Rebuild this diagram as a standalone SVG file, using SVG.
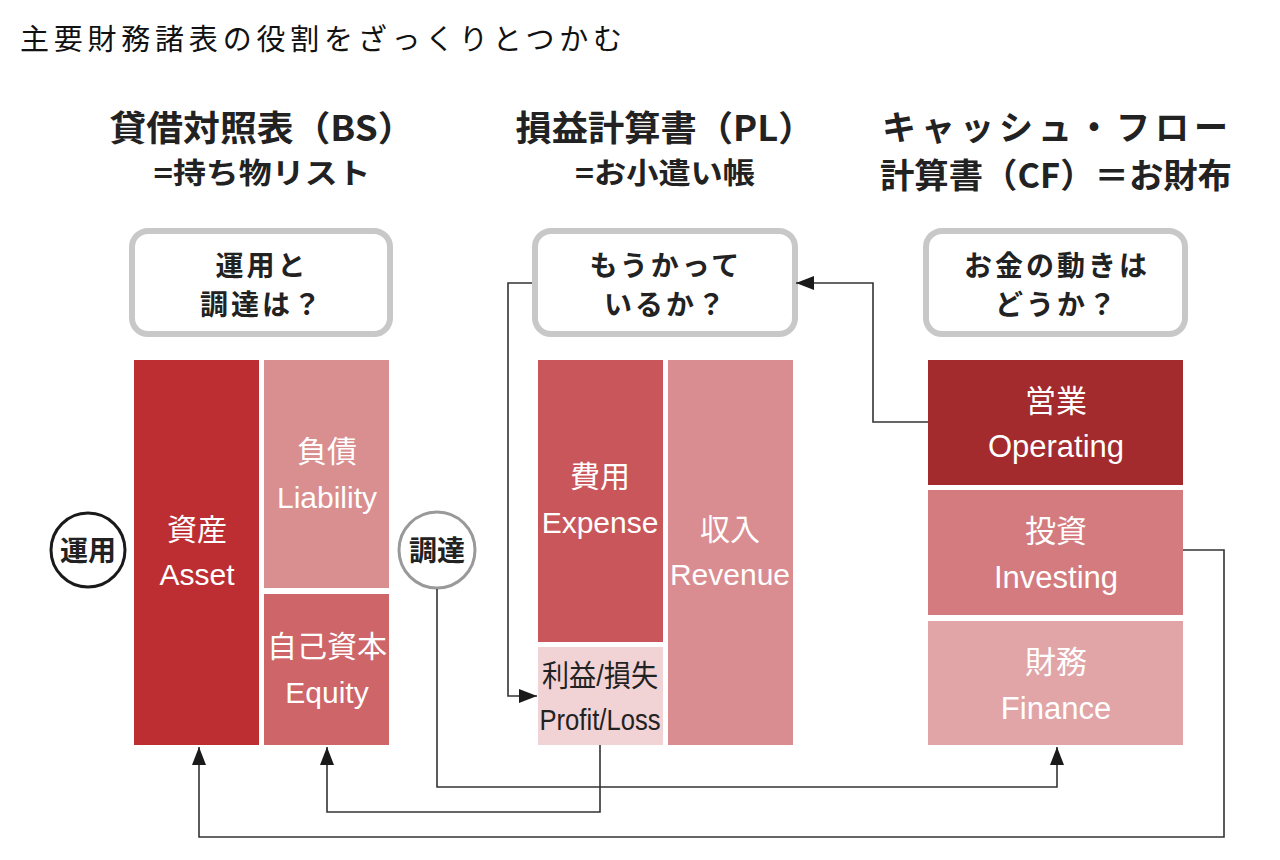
<svg xmlns="http://www.w3.org/2000/svg" width="1280" height="860" viewBox="0 0 1280 860">
<style>
.title{font-family:"Noto Sans CJK JP",sans-serif;font-size:29px;font-weight:400;fill:#111}
.h{font-family:"Noto Sans CJK JP",sans-serif;font-weight:700;fill:#222;text-anchor:middle}
.bt{font-family:"Noto Sans CJK JP",sans-serif;font-weight:700;font-size:28px;fill:#222;text-anchor:middle;letter-spacing:3px}
.bubble{fill:#fff;stroke:#c8c8c8;stroke-width:6}
.lbl{font-family:"Liberation Sans","Noto Sans CJK JP",sans-serif;font-size:30px;fill:#fff;text-anchor:middle}
.lblc{font-family:"Liberation Sans","Noto Sans CJK JP",sans-serif;font-size:31px;fill:#fff;text-anchor:middle}
.dark{fill:#222}
.conn{fill:none;stroke:#333;stroke-width:1.6}
</style>
<defs>
<marker id="arr" markerUnits="userSpaceOnUse" markerWidth="18" markerHeight="14" viewBox="0 0 18 14" refX="18" refY="7" orient="auto">
<path d="M0,0 L18,7 L0,14 z" fill="#1a1a1a"/>
</marker>
</defs>
<rect width="1280" height="860" fill="#fff"/>
<text class="title" x="20" y="50" textLength="602" lengthAdjust="spacing">主要財務諸表の役割をざっくりとつかむ</text>

<g id="head-bs">
<text class="h" x="262" y="141" font-size="35" textLength="305" lengthAdjust="spacingAndGlyphs">貸借対照表（BS）</text>
<text class="h" x="262" y="184" font-size="29" textLength="217" lengthAdjust="spacingAndGlyphs">=持ち物リスト</text>
</g>
<g id="head-pl">
<text class="h" x="665" y="141" font-size="35" textLength="299" lengthAdjust="spacingAndGlyphs">損益計算書（PL）</text>
<text class="h" x="665" y="184" font-size="29" textLength="180" lengthAdjust="spacingAndGlyphs">=お小遣い帳</text>
</g>
<g id="head-cf">
<text class="h" x="1055" y="140" font-size="34" textLength="346" lengthAdjust="spacing">キャッシュ・フロー</text>
<text class="h" x="1056" y="188" font-size="34" textLength="352" lengthAdjust="spacingAndGlyphs">計算書（CF）＝お財布</text>
</g>

<g id="q-bs">
<rect class="bubble" x="132" y="231" width="258" height="103" rx="16"/>
<text class="bt" x="262" y="276">運用と</text>
<text class="bt" x="262" y="315">調達は？</text>
</g>
<g id="q-pl">
<rect class="bubble" x="535" y="231" width="260" height="103" rx="16"/>
<text class="bt" x="666" y="276">もうかって</text>
<text class="bt" x="666" y="315">いるか？</text>
</g>
<g id="q-cf">
<rect class="bubble" x="926" y="231" width="259" height="103" rx="16"/>
<text class="bt" x="1057" y="276">お金の動きは</text>
<text class="bt" x="1057" y="315">どうか？</text>
</g>

<g id="asset">
<rect x="134" y="360" width="125" height="385" fill="#bd2e33"/>
<text class="lbl" x="197" y="540">資産</text>
<text class="lbl" x="197" y="585">Asset</text>
</g>
<g id="liability">
<rect x="264" y="360" width="125" height="228" fill="#d98e90"/>
<text class="lbl" x="327" y="462">負債</text>
<text class="lbl" x="327" y="508">Liability</text>
</g>
<g id="equity">
<rect x="264" y="594" width="125" height="151" fill="#cd6569"/>
<text class="lbl" x="327" y="657">自己資本</text>
<text class="lbl" x="327" y="703">Equity</text>
</g>
<g id="unyo">
<circle cx="88" cy="550" r="37" fill="#fff" stroke="#1a1a1a" stroke-width="3"/>
<text class="h" x="88" y="561" font-size="28">運用</text>
</g>
<g id="chotatsu">
<circle cx="437" cy="550" r="38" fill="#fff" stroke="#999" stroke-width="3"/>
<text class="h" x="437" y="561" font-size="28">調達</text>
</g>

<g id="expense">
<rect x="538" y="360" width="125" height="282" fill="#c8565b"/>
<text class="lbl" x="600" y="487">費用</text>
<text class="lbl" x="600" y="533">Expense</text>
</g>
<g id="profit">
<rect x="538" y="647" width="125" height="98" fill="#f1d3d5"/>
<text class="lbl dark" x="600" y="686" textLength="116" lengthAdjust="spacingAndGlyphs">利益/損失</text>
<text class="lbl dark" x="600" y="730" textLength="121" lengthAdjust="spacingAndGlyphs">Profit/Loss</text>
</g>
<g id="revenue">
<rect x="668" y="360" width="125" height="385" fill="#da8d90"/>
<text class="lbl" x="730" y="540">収入</text>
<text class="lbl" x="730" y="585">Revenue</text>
</g>

<g id="operating">
<rect x="928" y="360" width="255" height="125" fill="#a32a2d"/>
<text class="lblc" x="1056" y="412">営業</text>
<text class="lblc" x="1056" y="457">Operating</text>
</g>
<g id="investing">
<rect x="928" y="490" width="255" height="125" fill="#d37b7e"/>
<text class="lblc" x="1056" y="542">投資</text>
<text class="lblc" x="1056" y="588">Investing</text>
</g>
<g id="finance">
<rect x="928" y="621" width="255" height="124" fill="#e1a5a7"/>
<text class="lblc" x="1056" y="673">財務</text>
<text class="lblc" x="1056" y="719">Finance</text>
</g>

<g id="connectors">
<path class="conn" d="M1183,550 H1224 V837 H199 V747" marker-end="url(#arr)"/>
<path class="conn" d="M600,745 V812 H327 V747" marker-end="url(#arr)"/>
<path class="conn" d="M437,589 V787 H1057 V747" marker-end="url(#arr)"/>
<path class="conn" d="M532,283 H508 V696 H537" marker-end="url(#arr)"/>
<path class="conn" d="M928,422 H873 V283 H796" marker-end="url(#arr)"/>
</g>
</svg>
